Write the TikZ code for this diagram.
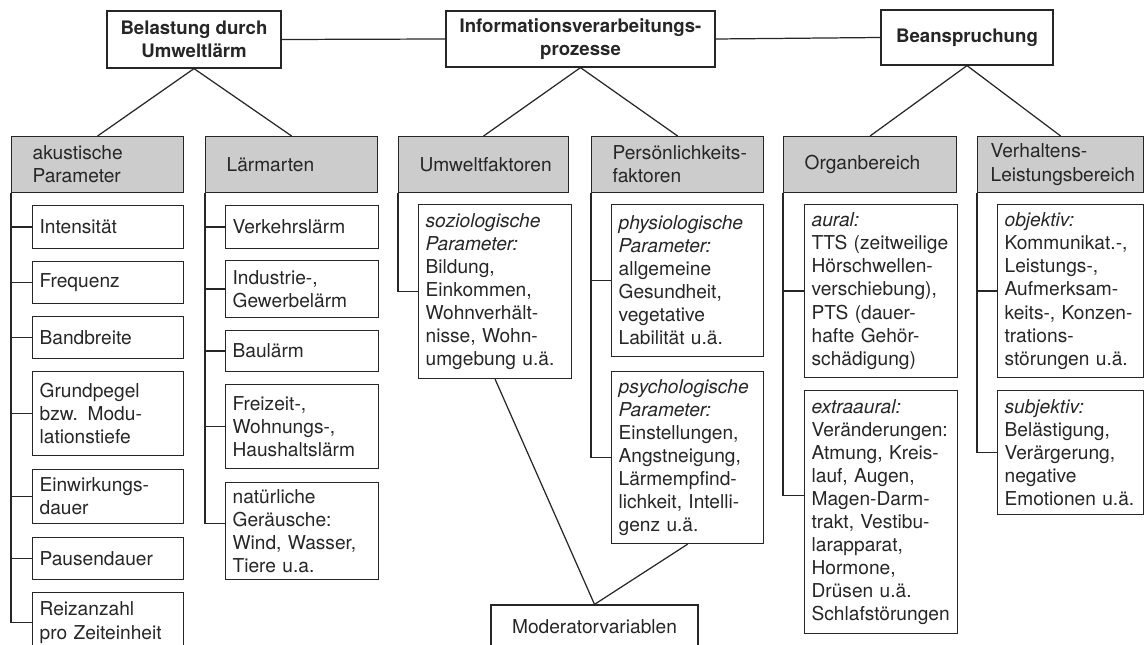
\documentclass[tikz,border=0pt]{standalone}
\usepackage{fontspec}
\setmainfont{TeX Gyre Heros}
\usepackage{tikz}
\hyphenpenalty=10000
\exhyphenpenalty=10000

\begin{document}
\begin{tikzpicture}[
    x=0.02cm, y=-0.02cm,
    color=black!85, line width=0.7pt,
    font=\fontsize{10.9}{13.1}\selectfont,
    topbox/.style 2 args={draw, font=\fontsize{10.6}{13.1}\selectfont\bfseries, align=center, inner sep=0pt, minimum width=#1, minimum height=#2},
    headbox/.style={draw, fill=black!20, anchor=north west, align=left, inner ysep=0pt, minimum height=1.12cm, inner xsep=0.42cm, text width=#1},
    itembox/.style 2 args={draw, anchor=north west, align=left, inner xsep=0.14cm, inner ysep=0pt, text width=#1, minimum height=#2},
    ]

\useasboundingbox (0,0) rectangle (1144,645);

% Top row
\node[topbox={3.48cm}{1.14cm}] (belastung) at (194,39.5) {Belastung durch\\Umweltlärm};
\node[topbox={5.38cm}{1.12cm}] (info) at (580.5,39) {Informationsverarbeitungs-\\prozesse};
\node[topbox={3.44cm}{1.10cm}] (bean) at (967,37.5) {Beanspruchung};

% Headers
\node[headbox=2.60cm] (hAkust) at (11,136) {akustische\\Parameter};
\node[headbox=2.60cm] (hLaerm) at (205,136) {Lärmarten};
\node[headbox=2.56cm] (hUmwelt) at (398,136) {Umweltfaktoren};
\node[headbox=2.60cm] (hPers) at (591,136) {Persönlichkeits-\\faktoren};
\node[headbox=2.62cm] (hOrgan) at (783,136) {Organbereich};
\node[headbox=2.80cm, inner xsep=0.26cm] (hVerh) at (977,136) {Verhaltens-\\Leistungsbereich};

% akustische Parameter
\node[itembox={2.74cm}{0.86cm}] (iInt) at (32,205) {Intensität};
\node[itembox={2.74cm}{0.84cm}] (iFreq) at (32,261) {Frequenz};
\node[itembox={2.74cm}{0.84cm}] (iBand) at (32,316) {Bandbreite};
\node[itembox={2.74cm}{1.68cm}] (iGrund) at (32,371) {Grundpegel\\bzw. Modu-\\lationstiefe};
\node[itembox={2.74cm}{1.08cm}] (iEinw) at (32,469) {Einwirkungs-\\dauer};
\node[itembox={2.74cm}{0.84cm}] (iPause) at (32,537) {Pausendauer};
\node[itembox={2.74cm}{1.20cm}] (iReiz) at (32,592) {Reizanzahl\\pro Zeiteinheit};

% Laermarten
\node[itembox={2.78cm}{0.86cm}] (iVerk) at (225,205) {Verkehrslärm};
\node[itembox={2.78cm}{1.14cm}] (iInd) at (225,260) {Industrie-,\\Gewerbelärm};
\node[itembox={2.78cm}{0.82cm}] (iBau) at (225,330) {Baulärm};
\node[itembox={2.78cm}{1.68cm}] (iFrei) at (225,384) {Freizeit-,\\Wohnungs-,\\Haushaltslärm};
\node[itembox={2.78cm}{1.94cm}] (iNat) at (225,482) {natürliche\\Geräusche:\\Wind, Wasser,\\Tiere u.a.};

% Umweltfaktoren
\node[itembox={2.78cm}{3.48cm}] (iSozio) at (418,204) {\textit{soziologische}\\\textit{Parameter:}\\Bildung,\\Einkommen,\\Wohnverhält-\\nisse, Wohn-\\umgebung u.ä.};

% Persoenlichkeitsfaktoren
\node[itembox={2.76cm}{3.04cm}] (iPhys) at (611,204) {\textit{physiologische}\\\textit{Parameter:}\\allgemeine\\Gesundheit,\\vegetative\\Labilität u.ä.};
\node[itembox={2.76cm}{3.44cm}] (iPsych) at (611,371) {\textit{psychologische}\\\textit{Parameter:}\\Einstellungen,\\Angstneigung,\\Lärmempfind-\\lichkeit, Intelli-\\genz u.ä.};

% Organbereich
\node[itembox={2.78cm}{3.46cm}] (iAural) at (804,204) {\textit{aural:}\\TTS~(zeitweilige\\Hörschwellen-\\verschiebung),\\PTS (dauer-\\hafte Gehör-\\schädigung)};
\node[itembox={2.78cm}{4.86cm}] (iExtra) at (804,390) {\textit{extraaural:}\\Veränderungen:\\Atmung, Kreis-\\lauf, Augen,\\Magen-Darm-\\trakt, Vestibu-\\larapparat,\\Hormone,\\Drüsen u.ä.\\Schlafstörungen};

% Verhaltens-/Leistungsbereich
\node[itembox={2.64cm}{3.46cm}] (iObj) at (997,204) {\textit{objektiv:}\\Kommunikat.-,\\Leistungs-,\\Aufmerksam-\\keits-,~Konzen-\\trations-\\störungen u.ä.};
\node[itembox={2.64cm}{2.48cm}] (iSubj) at (997,390) {\textit{subjektiv:}\\Belästigung,\\Verärgerung,\\negative\\Emotionen u.ä.};

% Moderator
\node[draw, minimum width=4.14cm, minimum height=0.88cm] (mod) at (594.5,627) {Moderatorvariablen};

% Edges top row
\draw (belastung.east) -- (info.west);
\draw (info.east) -- (bean.west);
\draw (belastung.south) -- (hAkust.north);
\draw (belastung.south) -- (hLaerm.north);
\draw (info.south) -- (hUmwelt.north);
\draw (info.south) -- (hPers.north);
\draw (bean.south) -- (hOrgan.north);
\draw (bean.south) -- (hVerh.north);

% Trunks
\draw (hAkust.south west) |- (iReiz.west);
\foreach \n in {iInt,iFreq,iBand,iGrund,iEinw,iPause} {
    \draw (\n.west) -- (\n.west -| hAkust.south west);
}

\draw (hLaerm.south west) |- ([yshift=0.15cm]iNat.west);
\foreach \n in {iVerk,iInd,iBau,iFrei} {
    \draw (\n.west) -- (\n.west -| hLaerm.south west);
}

\draw (hUmwelt.south west) |- (iSozio.west);

\draw (hPers.south west) |- (iPsych.west);
\draw (iPhys.west) -- (iPhys.west -| hPers.south west);

\draw (hOrgan.south west) |- ([yshift=0.33cm]iExtra.west);
\draw (iAural.west) -- (iAural.west -| hOrgan.south west);

\draw (hVerh.south west) |- (iSubj.west);
\draw (iObj.west) -- (iObj.west -| hVerh.south west);

% Moderator edges
\draw (iSozio.south) -- (mod.north) -- (iPsych.south);

\end{tikzpicture}
\end{document}
